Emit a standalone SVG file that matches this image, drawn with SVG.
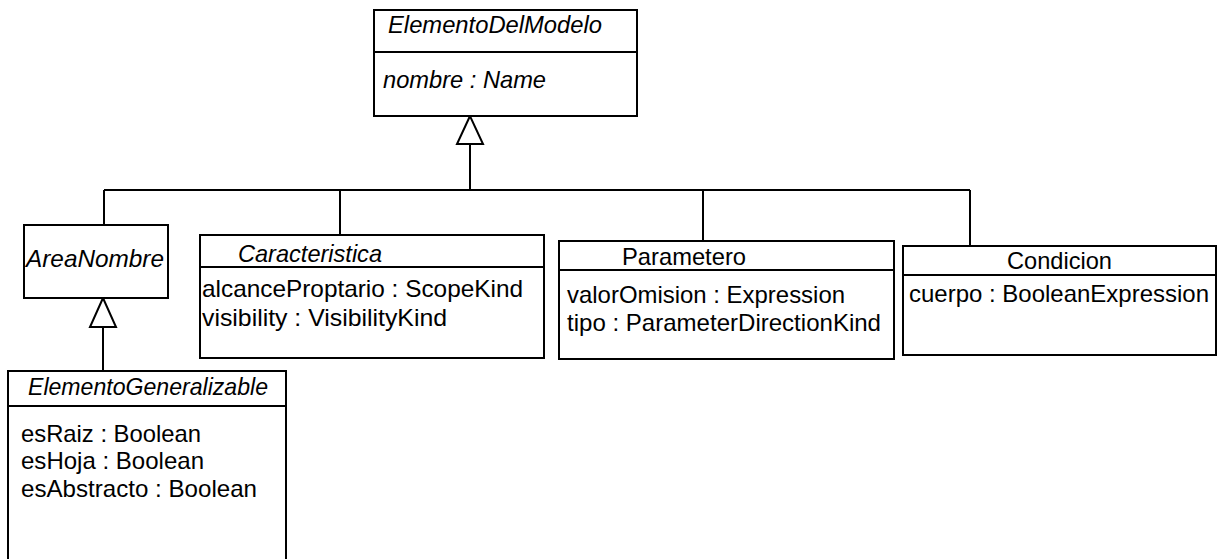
<svg xmlns="http://www.w3.org/2000/svg" width="1217" height="559" viewBox="0 0 1217 559">
<style>
.box{fill:#fff;stroke:#000;stroke-width:2}
.ln{fill:none;stroke:#000;stroke-width:2}
.tri{fill:#fff;stroke:#000;stroke-width:2;stroke-linejoin:miter}
text{font-family:"Liberation Sans",Arial,sans-serif;font-size:24px;fill:#000}
.it{font-style:italic}
</style>
<rect width="1217" height="559" fill="#fff"/>
<g id="connectors">
<path class="ln" d="M104 190H970M104 190V225M340 190V235M703 190V241M970 190V246M470 144V190M103 327V371"/>
<polygon class="tri" points="470,116 457,144 483,144"/>
<polygon class="tri" points="103,298 90,327 116,327"/>
</g>
<g id="ElementoDelModelo">
<rect class="box" x="374" y="10" width="263" height="106"/>
<path class="ln" d="M374 52H637"/>
<text class="it" x="388" y="33" textLength="214" lengthAdjust="spacingAndGlyphs">ElementoDelModelo</text>
<text class="it" x="383" y="88" textLength="163" lengthAdjust="spacingAndGlyphs">nombre : Name</text>
</g>
<g id="AreaNombre">
<rect class="box" x="24" y="225" width="144" height="73"/>
<text class="it" x="26" y="267" textLength="138" lengthAdjust="spacingAndGlyphs">AreaNombre</text>
</g>
<g id="Caracteristica">
<rect class="box" x="200" y="235" width="344" height="123"/>
<path class="ln" d="M200 267H544"/>
<text class="it" x="238" y="262" textLength="144" lengthAdjust="spacingAndGlyphs">Caracteristica</text>
<text x="202" y="297" textLength="321" lengthAdjust="spacingAndGlyphs">alcanceProptario : ScopeKind</text>
<text x="202" y="326" textLength="245" lengthAdjust="spacingAndGlyphs">visibility : VisibilityKind</text>
</g>
<g id="Parametero">
<rect class="box" x="559" y="241" width="335" height="118"/>
<path class="ln" d="M559 270H894"/>
<text x="622" y="265" textLength="124" lengthAdjust="spacingAndGlyphs">Parametero</text>
<text x="567" y="303" textLength="278" lengthAdjust="spacingAndGlyphs">valorOmision : Expression</text>
<text x="567" y="331" textLength="314" lengthAdjust="spacingAndGlyphs">tipo : ParameterDirectionKind</text>
</g>
<g id="Condicion">
<rect class="box" x="903" y="246" width="313" height="109"/>
<path class="ln" d="M903 275H1216"/>
<text x="1007" y="269" textLength="105" lengthAdjust="spacingAndGlyphs">Condicion</text>
<text x="909" y="302" textLength="300" lengthAdjust="spacingAndGlyphs">cuerpo : BooleanExpression</text>
</g>
<g id="ElementoGeneralizable">
<rect class="box" x="8" y="371" width="278" height="200"/>
<path class="ln" d="M8 406H286"/>
<text class="it" x="28" y="395" textLength="240" lengthAdjust="spacingAndGlyphs">ElementoGeneralizable</text>
<text x="21" y="442" textLength="180" lengthAdjust="spacingAndGlyphs">esRaiz : Boolean</text>
<text x="21" y="469" textLength="183" lengthAdjust="spacingAndGlyphs">esHoja : Boolean</text>
<text x="21" y="497" textLength="236" lengthAdjust="spacingAndGlyphs">esAbstracto : Boolean</text>
</g>
</svg>
